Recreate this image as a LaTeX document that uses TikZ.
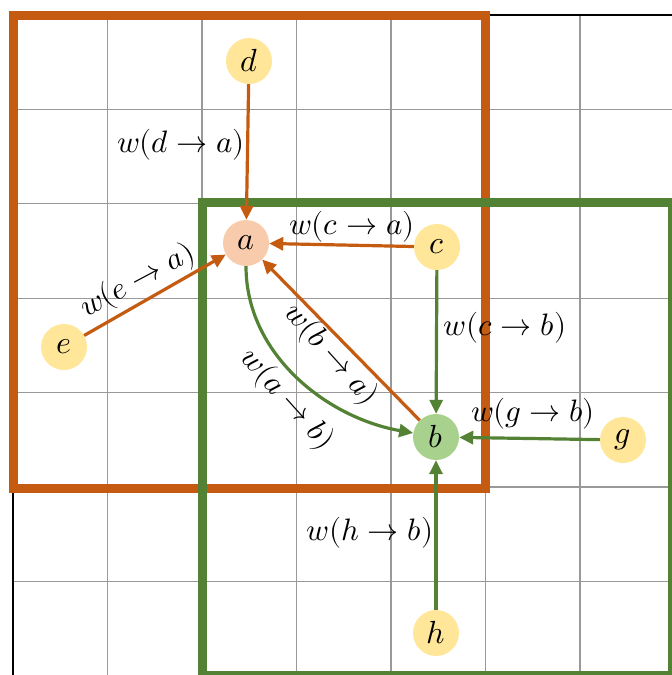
\documentclass[tikz,border=0pt]{standalone}
\usepackage{unicode-math}
\setmathfont{Latin Modern Math}
\usetikzlibrary{arrows.meta}
\definecolor{org}{HTML}{C55A11}
\definecolor{grn}{HTML}{548235}
\definecolor{ylw}{HTML}{FFE699}
\definecolor{pch}{HTML}{F8CBAD}
\definecolor{lgr}{HTML}{A9D18E}
\definecolor{gridc}{HTML}{999999}
\begin{document}
\begin{tikzpicture}[x=1pt,y=-1pt,
  vtx/.style={circle,minimum size=46pt,inner sep=0pt,font=\fontsize{32}{36}\selectfont},
  lab/.style={inner sep=1pt,font=\fontsize{31}{36}\selectfont},
  tipx/.style={-{Triangle[length=14pt,width=13pt]}},
  oedge/.style={draw=org,line width=3.2pt,tipx},
  gedge/.style={draw=grn,line width=3.2pt,tipx}]
\useasboundingbox (0,0) rectangle (672,675);
% grid
\foreach \i in {1,...,6} {
  \draw[gridc,line width=1.3pt] ({13+94.5*\i},15) -- ({13+94.5*\i},675);
  \draw[gridc,line width=1.3pt] (13,{15+94.4*\i}) -- (672,{15+94.4*\i});
}
\draw[black,line width=1.3pt] (672,15) -- (13,15) -- (13,675);
% regions
\draw[org,line width=9pt] (13,15) rectangle (485.5,488);
\draw[grn,line width=9pt] (202.5,202.5) rectangle (672.5,675.5);
% nodes
\node[vtx,fill=ylw] (d) at (249,61) {$d$};
\node[vtx,fill=pch] (a) at (246,243) {$a$};
\node[vtx,fill=ylw] (c) at (437,247) {$c$};
\node[vtx,fill=ylw] (e) at (64,347) {$e$};
\node[vtx,fill=lgr] (b) at (436,437) {$b$};
\node[vtx,fill=ylw] (g) at (623,440) {$g$};
\node[vtx,fill=ylw] (h) at (436,633) {$h$};
% edges
\draw[oedge] (d) -- (a);
\draw[oedge] (c) -- (a);
\draw[oedge] (e) -- (a);
\draw[oedge] (b) -- (a);
\draw[gedge] (a) to[out=-90,in=170,looseness=0.95] (b);
\draw[gedge] (c) -- (b);
\draw[gedge] (g) -- (b);
\draw[gedge] (h) -- (b);
% labels
\node[lab] (lda) at (181,145) {$w(d\rightarrow a)$};
\node[lab] (lca) at (352,227) {$w(c\rightarrow a)$};
\node[lab,rotate=28] (lea) at (138,281) {$w(e\rightarrow a)$};
\node[lab,rotate=-48] (lba) at (331,355) {$w(b\rightarrow a)$};
\node[lab,rotate=-48] (lab2) at (287,400) {$w(a\rightarrow b)$};
\node[lab] (lcb) at (505,328) {$w(c\rightarrow b)$};
\node[lab] (lgb) at (533,414) {$w(g\rightarrow b)$};
\node[lab] (lhb) at (370,533) {$w(h\rightarrow b)$};
\end{tikzpicture}
\end{document}
